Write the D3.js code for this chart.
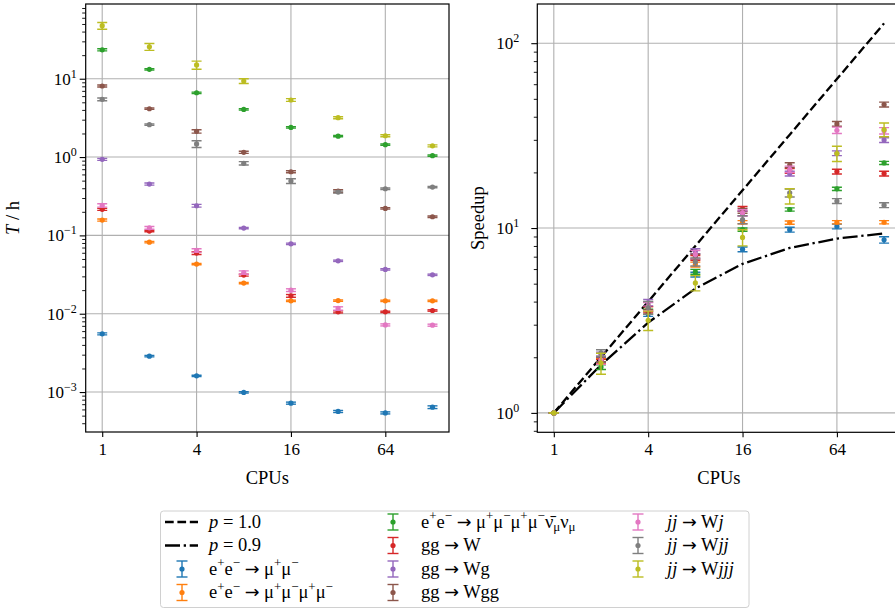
<!DOCTYPE html>
<html><head><meta charset="utf-8">
<script src="https://cdn.jsdelivr.net/npm/d3@7"></script>
<style>
body{margin:0;background:#fff}
svg{display:block}
text{font-family:"Liberation Serif","DejaVu Serif",serif;fill:#000}
</style>
</head><body>
<svg id="chart" width="895" height="609"></svg>
<script>
// ---------------- DATA ----------------
const cpus = [1, 2, 4, 8, 16, 32, 64, 128];
const xTickValues = [1, 4, 16, 64];
const leftYTickExps = [-3, -2, -1, 0, 1];
const rightYTickExps = [0, 1, 2];

const seriesLabels = [
  "e^{+}e^{−} → μ^{+}μ^{−}",
  "e^{+}e^{−} → μ^{+}μ^{−}μ^{+}μ^{−}",
  "e^{+}e^{−} → μ^{+}μ^{−}μ^{+}μ^{−}ν̄_{μ}ν_{μ}",
  "gg → W",
  "gg → Wg",
  "gg → Wgg",
  "*jj* → W*j*",
  "*jj* → W*jj*",
  "*jj* → W*jjj*"
];
const seriesColors = ["#1f77b4","#ff7f0e","#2ca02c","#d62728","#9467bd","#8c564b","#e377c2","#7f7f7f","#bcbd22"];

// run time T / h
const timeEEtoMuMu      = [0.00553, 0.00287, 0.00161, 0.00099, 0.000722, 0.000565, 0.000542, 0.000641];
const timeEEto4Mu       = [0.157, 0.082, 0.043, 0.0246, 0.0146, 0.0147, 0.0146, 0.0146];
const timeEEto4Mu2Nu    = [23.4, 13.2, 6.62, 4.06, 2.39, 1.85, 1.44, 1.04];
const timeGGtoW         = [0.215, 0.1135, 0.0594, 0.0311, 0.0169, 0.01056, 0.01056, 0.011];
const timeGGtoWg        = [0.935, 0.452, 0.239, 0.124, 0.078, 0.0474, 0.0368, 0.0314];
const timeGGtoWgg       = [8.07, 4.14, 2.13, 1.15, 0.649, 0.368, 0.221, 0.173];
const timeJJtoWj        = [0.2415, 0.125, 0.0643, 0.0336, 0.020, 0.01167, 0.0072, 0.00714];
const timeJJtoWjj       = [5.46, 2.59, 1.47, 0.832, 0.494, 0.357, 0.394, 0.414];
const timeJJtoWjjj      = [47.5, 25.6, 15.0, 9.35, 5.35, 3.18, 1.87, 1.39];

// relative uncertainty of T
const timeErrEEtoMuMu   = [0.03, 0.02, 0.02, 0.02, 0.03, 0.03, 0.03, 0.04];
const timeErrEEto4Mu    = [0.03, 0.02, 0.02, 0.02, 0.02, 0.02, 0.02, 0.02];
const timeErrEEto4Mu2Nu = [0.03, 0.02, 0.02, 0.02, 0.02, 0.02, 0.02, 0.02];
const timeErrGGtoW      = [0.03, 0.02, 0.04, 0.03, 0.04, 0.03, 0.02, 0.02];
const timeErrGGtoWg     = [0.03, 0.03, 0.04, 0.02, 0.02, 0.02, 0.02, 0.02];
const timeErrGGtoWgg    = [0.03, 0.02, 0.05, 0.03, 0.03, 0.04, 0.02, 0.02];
const timeErrJJtoWj     = [0.05, 0.04, 0.05, 0.05, 0.04, 0.05, 0.03, 0.03];
const timeErrJJtoWjj    = [0.04, 0.02, 0.10, 0.05, 0.07, 0.03, 0.02, 0.02];
const timeErrJJtoWjjj   = [0.10, 0.10, 0.12, 0.07, 0.04, 0.03, 0.03, 0.03];

// speedup
const speedEEtoMuMu     = [1, 1.93, 3.43, 5.6, 7.67, 9.8, 10.2, 8.63];
const speedEEto4Mu      = [1, 1.91, 3.65, 6.35, 10.75, 10.7, 10.75, 10.75];
const speedEEto4Mu2Nu   = [1, 1.77, 3.53, 5.8, 9.8, 12.6, 16.3, 22.5];
const speedGGtoW        = [1, 1.89, 3.62, 6.9, 12.7, 20.4, 20.2, 19.7];
const speedGGtoWg       = [1, 2.07, 3.95, 7.5, 12.0, 19.7, 25.4, 29.9];
const speedGGtoWgg      = [1, 1.95, 3.79, 7.0, 12.4, 21.9, 36.6, 46.6];
const speedJJtoWj       = [1, 1.93, 3.76, 7.2, 12.1, 20.8, 33.8, 33.6];
const speedJJtoWjj      = [1, 2.11, 3.71, 6.56, 11.1, 15.5, 14.0, 13.3];
const speedJJtoWjjj     = [1, 1.86, 3.17, 5.05, 8.9, 14.9, 25.3, 34.1];

// relative uncertainty of speedup
const speedErrEEtoMuMu   = [0, 0.03, 0.03, 0.03, 0.03, 0.03, 0.03, 0.04];
const speedErrEEto4Mu    = [0, 0.03, 0.03, 0.03, 0.02, 0.02, 0.02, 0.02];
const speedErrEEto4Mu2Nu = [0, 0.03, 0.03, 0.03, 0.02, 0.02, 0.02, 0.02];
const speedErrGGtoW      = [0, 0.03, 0.04, 0.03, 0.03, 0.03, 0.03, 0.03];
const speedErrGGtoWg     = [0, 0.03, 0.04, 0.03, 0.03, 0.03, 0.03, 0.03];
const speedErrGGtoWgg    = [0, 0.03, 0.05, 0.03, 0.03, 0.03, 0.03, 0.03];
const speedErrJJtoWj     = [0, 0.05, 0.05, 0.05, 0.04, 0.04, 0.04, 0.04];
const speedErrJJtoWjj    = [0, 0.04, 0.08, 0.05, 0.05, 0.05, 0.03, 0.03];
const speedErrJJtoWjjj   = [0, 0.13, 0.12, 0.095, 0.10, 0.095, 0.095, 0.085];

// Amdahl reference lines
const amdahlLabels = ["*p* = 1.0", "*p* = 0.9"];
const amdahlP10 = [1, 2, 4, 8, 16, 32, 64, 128];
const amdahlP09 = [1, 1.818, 3.077, 4.706, 6.4, 7.805, 8.767, 9.343];

// ---------------- BUILD ----------------
const timeSeries = [timeEEtoMuMu,timeEEto4Mu,timeEEto4Mu2Nu,timeGGtoW,timeGGtoWg,timeGGtoWgg,timeJJtoWj,timeJJtoWjj,timeJJtoWjjj];
const timeErrs = [timeErrEEtoMuMu,timeErrEEto4Mu,timeErrEEto4Mu2Nu,timeErrGGtoW,timeErrGGtoWg,timeErrGGtoWgg,timeErrJJtoWj,timeErrJJtoWjj,timeErrJJtoWjjj];
const speedSeries = [speedEEtoMuMu,speedEEto4Mu,speedEEto4Mu2Nu,speedGGtoW,speedGGtoWg,speedGGtoWgg,speedJJtoWj,speedJJtoWjj,speedJJtoWjjj];
const speedErrs = [speedErrEEtoMuMu,speedErrEEto4Mu,speedErrEEto4Mu2Nu,speedErrGGtoW,speedErrGGtoWg,speedErrGGtoWgg,speedErrJJtoWj,speedErrJJtoWjj,speedErrJJtoWjjj];

const svg = d3.select("#chart");
const FS = 17;      // tick labels
const FL = 18.5;    // axis labels and legend text

// rich text: ^{..} superscript, _{..} subscript, *..* italic, → drawn wider
function richText(sel, str, fs) {
  const re = /(\^\{[^}]*\}|_\{[^}]*\}|\*[^*]*\*|→|[^^_*→]+)/g;
  let m, shift = 0;
  const small = fs * 0.7;
  while ((m = re.exec(str)) !== null) {
    const tok = m[0];
    if (tok.startsWith("^{")) {
      sel.append("tspan").attr("font-size", small).attr("dy", -fs*0.38 - shift).text(tok.slice(2, -1));
      shift = -fs*0.38;
    } else if (tok.startsWith("_{")) {
      sel.append("tspan").attr("font-size", small).attr("dy", fs*0.2 - shift).text(tok.slice(2, -1));
      shift = fs*0.2;
    } else if (tok.startsWith("*")) {
      sel.append("tspan").attr("font-style", "italic").attr("font-size", fs).attr("dy", -shift).text(tok.slice(1, -1));
      shift = 0;
    } else if (tok === "→") {
      sel.append("tspan").attr("font-family", "DejaVu Sans").attr("font-size", fs*0.95).attr("dy", -shift).text("→");
      shift = 0;
    } else {
      sel.append("tspan").attr("font-size", fs).attr("dy", -shift).text(tok);
      shift = 0;
    }
  }
}

function minorTicks(domain) {
  const lo = Math.log10(domain[0]), hi = Math.log10(domain[1]);
  const out = [];
  for (let e = Math.floor(lo); e <= Math.ceil(hi); e++) {
    for (let k = 2; k <= 9; k++) {
      const v = k * Math.pow(10, e);
      if (v >= domain[0] && v <= domain[1]) out.push(v);
    }
  }
  return out;
}

function panel(opts) {
  const {x0, x1, y0, y1, yDomain, yExps, ylabel, id} = opts;
  const x = d3.scaleLog().base(2).domain([Math.pow(2, -0.35), Math.pow(2, 7.35)]).range([x0, x1]);
  const y = d3.scaleLog().domain(yDomain).range([y1, y0]);
  const g = svg.append("g");
  svg.append("defs").append("clipPath").attr("id", id).append("rect")
     .attr("x", x0).attr("y", y0).attr("width", x1 - x0).attr("height", y1 - y0);
  // grid
  const grid = g.append("g").attr("stroke", "#b0b0b0").attr("stroke-width", 1.1);
  xTickValues.forEach(v => grid.append("line").attr("x1", x(v)).attr("x2", x(v)).attr("y1", y0).attr("y2", y1));
  yExps.forEach(e => grid.append("line").attr("x1", x0).attr("x2", x1).attr("y1", y(Math.pow(10, e))).attr("y2", y(Math.pow(10, e))));
  // x axis
  const xa = g.append("g").attr("transform", `translate(0,${y1})`)
    .call(d3.axisBottom(x).tickValues(xTickValues).tickSize(5).tickPadding(6).tickFormat(d3.format("d")));
  xa.select(".domain").remove();
  xa.selectAll("line").attr("stroke", "#000").attr("stroke-width", 1.1);
  xa.selectAll("text").attr("font-size", FS).attr("font-family", null).attr("fill", "#000");
  // y axis majors
  const ya = g.append("g").attr("transform", `translate(${x0},0)`)
    .call(d3.axisLeft(y).tickValues(yExps.map(e => Math.pow(10, e))).tickSize(6).tickPadding(opts.ypad).tickFormat(() => ""));
  ya.select(".domain").remove();
  ya.selectAll("line").attr("stroke", "#000").attr("stroke-width", 1.1);
  ya.selectAll("text").attr("font-size", FS).attr("font-family", null).attr("fill", "#000").attr("dy", "0.32em")
    .each(function(d) {
      const e = Math.round(Math.log10(d));
      const t = d3.select(this);
      t.text(null);
      t.append("tspan").text("10");
      t.append("tspan").attr("font-size", 12).attr("dy", -7).text(e < 0 ? "−" + (-e) : String(e));
    });
  // y minors
  const ym = g.append("g").attr("transform", `translate(${x0},0)`)
    .call(d3.axisLeft(y).tickValues(minorTicks(yDomain)).tickSize(3.5).tickFormat(() => ""));
  ym.select(".domain").remove();
  ym.selectAll("line").attr("stroke", "#000").attr("stroke-width", 0.9);
  // labels
  svg.append("text").attr("x", (x0 + x1) / 2).attr("y", 484).attr("text-anchor", "middle")
     .attr("font-size", FL).text("CPUs");
  const yl = svg.append("text").attr("text-anchor", "middle").attr("font-size", FL)
     .attr("transform", `translate(${opts.ylx},${(y0 + y1) / 2}) rotate(-90)`);
  richText(yl, ylabel, FL);
  return {x, y, g, y0, y1, x0, x1};
}

const L = panel({id: "clipL", x0: 85.7, x1: 449, y0: 4, y1: 432, yDomain: [Math.pow(10, -3.51), Math.pow(10, 1.954)], yExps: leftYTickExps, ylabel: "*T* / h", ylx: 19, ypad: 3});
const R = panel({id: "clipR", x0: 537.3, x1: 900.6, y0: 4, y1: 432.3, yDomain: [Math.pow(10, -0.105), Math.pow(10, 2.212)], yExps: rightYTickExps, ylabel: "Speedup", ylx: 484, ypad: 12});

function drawErrorbars(P, clipId, vals, errs, color) {
  const g = svg.append("g").attr("clip-path", `url(#${clipId})`);
  const pts = cpus.map((c, i) => ({c, v: vals[i], e: errs[i] * vals[i]}));
  g.selectAll("line.eb").data(pts).join("line").attr("class", "eb")
    .attr("x1", d => P.x(d.c)).attr("x2", d => P.x(d.c))
    .attr("y1", d => P.y(d.v + d.e)).attr("y2", d => P.y(Math.max(d.v - d.e, 1e-9)))
    .attr("stroke", color).attr("stroke-width", 1.4);
  ["top", "bot"].forEach(k => {
    g.selectAll("line.cap" + k).data(pts).join("line").attr("class", "cap" + k)
      .attr("x1", d => P.x(d.c) - 5).attr("x2", d => P.x(d.c) + 5)
      .attr("y1", d => P.y(k === "top" ? d.v + d.e : d.v - d.e)).attr("y2", d => P.y(k === "top" ? d.v + d.e : d.v - d.e))
      .attr("stroke", color).attr("stroke-width", 1.4);
  });
  g.selectAll("circle").data(pts).join("circle")
    .attr("cx", d => P.x(d.c)).attr("cy", d => P.y(d.v)).attr("r", 2.6).attr("fill", color);
}

// Amdahl lines on right panel
const lineGen = d3.line().x((d, i) => R.x(cpus[i])).y(d => R.y(d));
const amdahlG = svg.append("g").attr("clip-path", "url(#clipR)");
amdahlG.append("path").attr("d", lineGen(amdahlP10)).attr("fill", "none").attr("stroke", "#000")
  .attr("stroke-width", 2.3).attr("stroke-dasharray", "8.7,3.7");
amdahlG.append("path").attr("d", lineGen(amdahlP09)).attr("fill", "none").attr("stroke", "#000")
  .attr("stroke-width", 2.3).attr("stroke-dasharray", "15,3.7,2.3,3.7");

for (let s = 0; s < 9; s++) {
  drawErrorbars(L, "clipL", timeSeries[s], timeErrs[s], seriesColors[s]);
  drawErrorbars(R, "clipR", speedSeries[s], speedErrs[s], seriesColors[s]);
}

// frames
[L, R].forEach(P => {
  svg.append("rect").attr("x", P.x0).attr("y", P.y0).attr("width", P.x1 - P.x0).attr("height", P.y1 - P.y0)
    .attr("fill", "none").attr("stroke", "#000").attr("stroke-width", 1.2);
});

// ---------------- LEGEND ----------------
const lg = svg.append("g");
lg.append("rect").attr("x", 160.5).attr("y", 511).attr("width", 588.5).attr("height", 96.5).attr("rx", 3)
  .attr("fill", "#fff").attr("fill-opacity", 0.8).attr("stroke", "#d0d0d0").attr("stroke-width", 1);
const rowY = [522, 545.5, 569, 592.5];
const cols = [{hx: 182, tx: 209}, {hx: 393, tx: 421}, {hx: 638, tx: 667}];
const entries = [
  {type: "line", dash: "8.7,3.7", label: amdahlLabels[0]},
  {type: "line", dash: "15,3.7,2.3,3.7", label: amdahlLabels[1]}
].concat(seriesLabels.map((l, i) => ({type: "eb", color: seriesColors[i], label: l})));
const placement = [[0,0],[0,1],[0,2],[0,3],[1,0],[1,1],[1,2],[1,3],[2,0],[2,1],[2,2]];
entries.forEach((en, i) => {
  const [c, r] = placement[i];
  const cy = rowY[r], hx = cols[c].hx;
  if (en.type === "line") {
    lg.append("line").attr("x1", hx - 17).attr("x2", hx + 16).attr("y1", cy).attr("y2", cy)
      .attr("stroke", "#000").attr("stroke-width", 2.3).attr("stroke-dasharray", en.dash);
  } else {
    lg.append("line").attr("x1", hx).attr("x2", hx).attr("y1", cy - 8).attr("y2", cy + 8).attr("stroke", en.color).attr("stroke-width", 1.4);
    lg.append("line").attr("x1", hx - 5.5).attr("x2", hx + 5.5).attr("y1", cy - 8).attr("y2", cy - 8).attr("stroke", en.color).attr("stroke-width", 1.4);
    lg.append("line").attr("x1", hx - 5.5).attr("x2", hx + 5.5).attr("y1", cy + 8).attr("y2", cy + 8).attr("stroke", en.color).attr("stroke-width", 1.4);
    lg.append("circle").attr("cx", hx).attr("cy", cy).attr("r", 2.6).attr("fill", en.color);
  }
  const t = lg.append("text").attr("x", cols[c].tx).attr("y", cy + 5.5).attr("font-size", FL);
  richText(t, en.label, FL);
});
</script>
</body></html>
